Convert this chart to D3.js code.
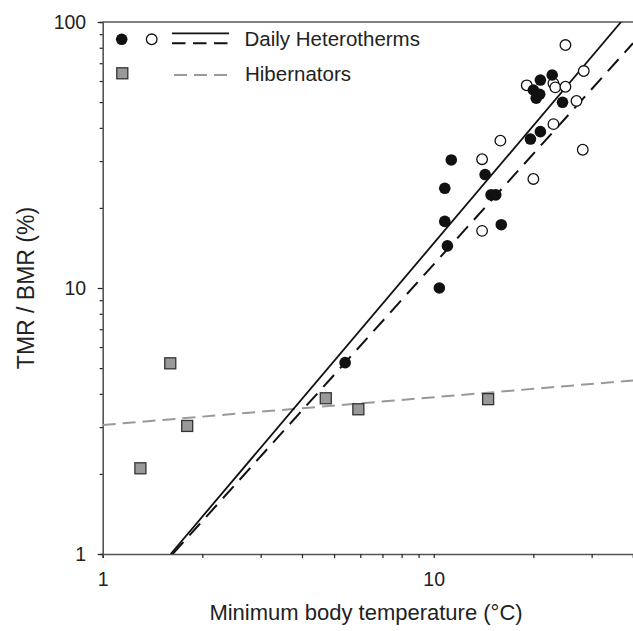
<!DOCTYPE html>
<html><head><meta charset="utf-8">
<script src="https://cdn.jsdelivr.net/npm/d3@7"></script>
<style>body{margin:0;background:#fff}svg{display:block}text{font-family:"Liberation Sans",Arial,sans-serif}</style>
</head><body><svg id="c" width="633" height="631"></svg>
<script>
// Daily heterotherms, filled circles [Tb min (°C), TMR/BMR (%)]
const dailyFilled = [
 [22.8,63.2],[21.0,60.5],[20.0,55.5],[20.9,53.5],[20.4,51.7],[24.5,49.9],
 [21.0,38.7],[19.6,36.3],[11.3,30.3],[14.3,26.7],[10.8,23.7],[14.9,22.4],
 [15.4,22.4],[16.0,17.3],[10.8,17.8],[11.0,14.4],[10.4,10.0],[5.4,5.24]
];
// Daily heterotherms, open circles
const dailyOpen = [
 [25.0,81.9],[28.4,65.4],[19.1,57.8],[23.0,58.8],[23.3,56.8],[25.0,57.1],
 [27.0,50.5],[23.0,41.3],[15.9,35.8],[28.2,33.1],[14.0,30.5],[20.0,25.7],[14.0,16.4]
];
// Hibernators, grey squares
const hibernators = [[1.6,5.21],[1.3,2.10],[1.8,3.03],[4.72,3.85],[5.92,3.50],[14.6,3.82]];
// Regression lines (end points)
const fitDailySolid = [[1.605,1],[36.8,100]];
const fitDailyDashed = [[1.627,1],[40,83.2]];
const fitHibernators = [[1,3.055],[40,4.49]];
const xTickLabels = [1,10];
const yTickLabels = [1,10,100];

const svg = d3.select("#c");
const L=102.7,R=633,T=22,B=554;
const x = d3.scaleLog().domain([1,40]).range([L,R]);
const y = d3.scaleLog().domain([1,100]).range([B,T]);
const axisCol="#555";

// axes
const xMinor = [2,3,4,5,6,7,8,9,20,30,40];
const xa = d3.axisBottom(x).tickValues(xTickLabels.concat(xMinor)).tickSize(4)
  .tickFormat(d=>xTickLabels.includes(d)?d:"");
const gx = svg.append("g").attr("transform",`translate(0,${B})`).call(xa);
gx.select(".domain").attr("stroke",axisCol).attr("stroke-width",1.6);
gx.selectAll(".tick line").attr("stroke","#222").attr("stroke-width",1.2);
gx.selectAll(".tick text").attr("font-size",19.5).attr("fill","#222").attr("y",4).attr("dy","1.45em");

const yMinor=[2,3,4,5,6,7,8,9,20,30,40,50,60,70,80,90];
const ya = d3.axisLeft(y).tickValues(yTickLabels.concat(yMinor)).tickSize(3)
  .tickFormat(d=>yTickLabels.includes(d)?d:"");
const gy = svg.append("g").attr("transform",`translate(${L},0)`).call(ya);
gy.select(".domain").attr("stroke",axisCol).attr("stroke-width",1.6);
gy.selectAll(".tick line").attr("stroke","#222").attr("stroke-width",1.2);
gy.selectAll(".tick").filter(d=>yTickLabels.includes(d)).select("line").attr("x2",-5);
gy.selectAll(".tick text").attr("font-size",19.5).attr("fill","#222").attr("x",-16.5);
// top frame
svg.append("line").attr("x1",L).attr("x2",R).attr("y1",y(100)).attr("y2",y(100))
  .attr("stroke",axisCol).attr("stroke-width",1.6);

// clip
svg.append("clipPath").attr("id","pc").append("rect").attr("x",L).attr("y",T).attr("width",R-L).attr("height",B-T);
const plot = svg.append("g").attr("clip-path","url(#pc)");
const line = d3.line().x(d=>x(d[0])).y(d=>y(d[1]));

plot.append("path").datum(fitHibernators).attr("d",line).attr("fill","none")
  .attr("stroke","#999").attr("stroke-width",2).attr("stroke-dasharray","13,7");
plot.append("path").datum(fitDailySolid).attr("d",line).attr("fill","none")
  .attr("stroke","#111").attr("stroke-width",1.8);
plot.append("path").datum(fitDailyDashed).attr("d",line).attr("fill","none")
  .attr("stroke","#111").attr("stroke-width",2).attr("stroke-dasharray","16,9");

plot.selectAll(".sq").data(hibernators).join("rect")
  .attr("x",d=>x(d[0])-5.5).attr("y",d=>y(d[1])-5.5).attr("width",11).attr("height",11)
  .attr("fill","#999").attr("stroke","#333").attr("stroke-width",1.3);
plot.selectAll(".op").data(dailyOpen).join("circle")
  .attr("cx",d=>x(d[0])).attr("cy",d=>y(d[1])).attr("r",5.3)
  .attr("fill","#fff").attr("stroke","#111").attr("stroke-width",1.3);
plot.selectAll(".fi").data(dailyFilled).join("circle")
  .attr("cx",d=>x(d[0])).attr("cy",d=>y(d[1])).attr("r",5.8).attr("fill","#111");

// legend
const lg = svg.append("g");
lg.append("circle").attr("cx",121.7).attr("cy",39.3).attr("r",5.8).attr("fill","#111");
lg.append("circle").attr("cx",151.7).attr("cy",39.3).attr("r",5.3).attr("fill","#fff").attr("stroke","#111").attr("stroke-width",1.3);
lg.append("line").attr("x1",172).attr("x2",229).attr("y1",33.3).attr("y2",33.3).attr("stroke","#111").attr("stroke-width",1.8);
lg.append("line").attr("x1",172).attr("x2",229).attr("y1",43.3).attr("y2",43.3).attr("stroke","#111").attr("stroke-width",2).attr("stroke-dasharray","13.5,7.5");
lg.append("text").attr("x",244.5).attr("y",46).attr("font-size",20.5).attr("fill","#222").text("Daily Heterotherms");
lg.append("rect").attr("x",116.8).attr("y",67.8).attr("width",11).attr("height",11).attr("fill","#999").attr("stroke","#333").attr("stroke-width",1.3);
lg.append("line").attr("x1",174).attr("x2",230).attr("y1",75).attr("y2",75).attr("stroke","#999").attr("stroke-width",2).attr("stroke-dasharray","13,7");
lg.append("text").attr("x",245).attr("y",80.5).attr("font-size",20.5).attr("fill","#222").text("Hibernators");

// axis titles
svg.append("text").attr("x",366).attr("y",620).attr("text-anchor","middle")
  .attr("font-size",22).attr("fill","#222").text("Minimum body temperature (°C)");
svg.append("text").attr("transform",`translate(34,${(T+B)/2}) rotate(-90)`).attr("text-anchor","middle")
  .attr("font-size",23).attr("fill","#222").text("TMR / BMR (%)");
</script></body></html>
